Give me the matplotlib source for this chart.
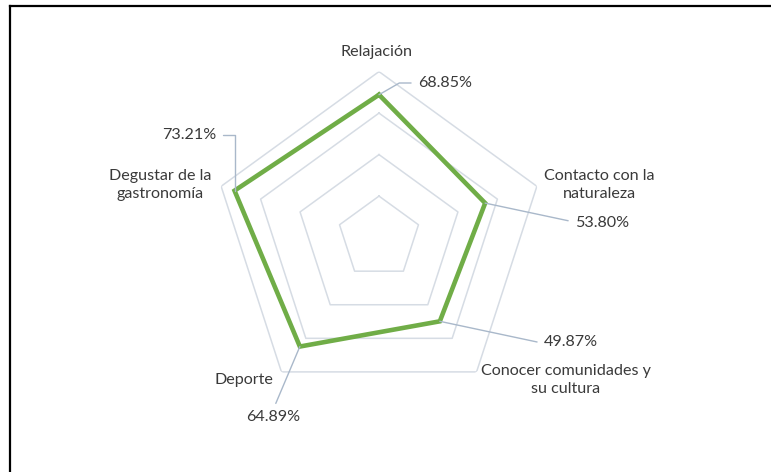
import numpy as np
import matplotlib.pyplot as plt
from matplotlib.lines import Line2D

# Motivos de viaje (porcentaje de encuestados)
categories = ["Relajación", "Contacto con la\nnaturaleza", "Conocer comunidades y\nsu cultura",
              "Deporte", "Degustar de la\ngastronomía"]
values = [68.85, 53.80, 49.87, 64.89, 73.21]
rings = [20, 40, 60, 80]

GREEN = "#70AD47"
GRID = "#D6DCE4"
LEADER = "#A9B8CA"
TEXT = "#3A3A3A"

plt.rcParams["font.family"] = ["Lato", "DejaVu Sans"]
FS = 11.6

W, H = 771, 472
fig = plt.figure(figsize=(W / 100, H / 100), dpi=100)

# polar axes centred on the chart area, outer ring = 80 %
cx, cy, R = 379, H - 237.6, 166
ax = fig.add_axes([(cx - R) / W, (cy - R) / H, 2 * R / W, 2 * R / H], projection="polar")
ax.set_theta_offset(np.pi / 2)
ax.set_theta_direction(-1)
ax.set_ylim(0, rings[-1])
ax.grid(False)
ax.set_xticks([])
ax.set_yticks([])
ax.spines["polar"].set_visible(False)
ax.patch.set_alpha(0)

angles = np.linspace(0, 2 * np.pi, len(categories), endpoint=False)
closed = np.append(angles, angles[0])

# pentagon gridlines
for r in rings:
    ax.plot(closed, [r] * len(closed), color=GRID, lw=1.1, zorder=1)

ax.plot(closed, np.append(values, values[0]), color=GREEN, lw=3.3,
        solid_joinstyle="miter", zorder=3)

# category labels (figure pixels)
cat_pos = [(377, H - 52), (599, H - 185), (566, H - 380), (244, H - 380), (160, H - 185)]
for name, (x, y) in zip(categories, cat_pos):
    fig.text(x / W, y / H, name, ha="center", va="center", fontsize=FS,
             color=TEXT, linespacing=1.3)

# value labels with leader lines
lab_pos = [(418, H - 83), (575, H - 223), (544, H - 342), (273, H - 417), (216, H - 135)]
lab_ha = ["left", "left", "left", "center", "right"]
lab_rel = [(0, 0.5), (0, 0.5), (0, 0.5), (0.5, 1.0), (1, 0.5)]
lab_conn = ["angle,angleA=0,angleB=30,rad=0",
            "angle,angleA=0,angleB=-12,rad=0",
            "angle,angleA=0,angleB=-12,rad=0",
            "arc3,rad=0",
            "angle,angleA=0,angleB=90,rad=0"]
for th, v, pos, ha, rel, conn in zip(angles, values, lab_pos, lab_ha, lab_rel, lab_conn):
    ax.annotate(f"{v:.2f}%", xy=(th, v), xytext=pos, textcoords="figure pixels",
                ha=ha, va="center", fontsize=FS, color=TEXT, annotation_clip=False,
                arrowprops=dict(arrowstyle="-", color=LEADER, lw=1.0, shrinkA=3, shrinkB=0,
                                relpos=rel, connectionstyle=conn),
                zorder=4)

# frame lines along the top and left edge
fig.add_artist(Line2D([10 / W, 1], [1 - 5.8 / H, 1 - 5.8 / H], color="black", lw=1.6))
fig.add_artist(Line2D([10 / W, 10 / W], [0, 1 - 5.8 / H], color="black", lw=1.6))

fig.savefig("out.png", dpi=100, facecolor="white")
